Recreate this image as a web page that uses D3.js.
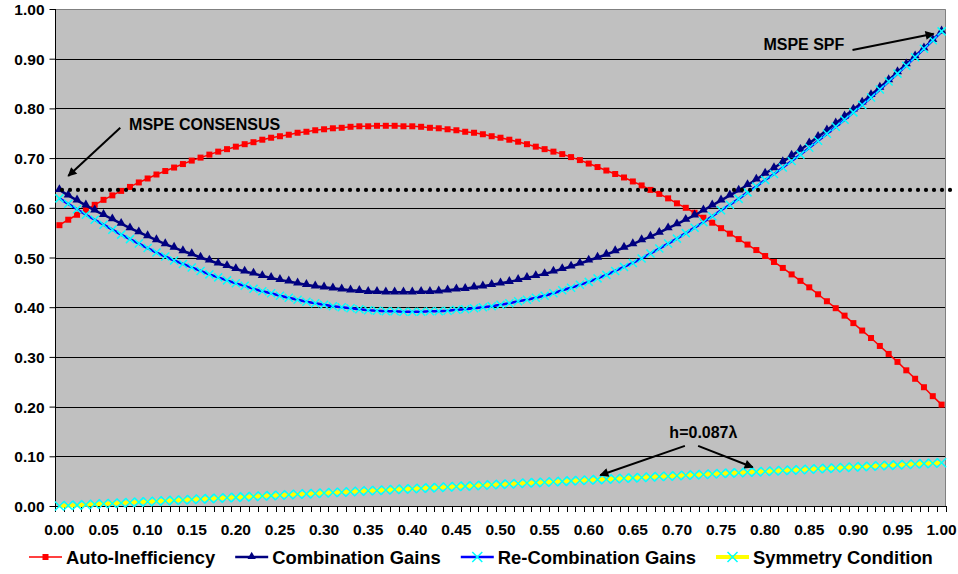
<!DOCTYPE html>
<html><head><meta charset="utf-8">
<script src="https://cdn.jsdelivr.net/npm/d3@7"></script>
<style>
body{margin:0;background:#fff}
text{font-family:Arial,"Liberation Sans",sans-serif;font-weight:bold;fill:#000}
</style>
</head><body>
<svg id="chart" width="958" height="574"></svg>
<script>
// ---------- data ----------
const categories = d3.range(101).map(i => (i / 100).toFixed(2));
const xTickLabels = ["0.00","0.05","0.10","0.15","0.20","0.25","0.30","0.35","0.40","0.45","0.50",
                     "0.55","0.60","0.65","0.70","0.75","0.80","0.85","0.90","0.95","1.00"];
const yTickValues = [0,0.1,0.2,0.3,0.4,0.5,0.6,0.7,0.8,0.9,1.0];
const yTickLabels = ["0.00","0.10","0.20","0.30","0.40","0.50","0.60","0.70","0.80","0.90","1.00"];
const seriesNames = ["Auto-Inefficiency","Combination Gains","Re-Combination Gains","Symmetry Condition"];

const autoInefficiency = [
0.565,0.576,0.586,0.596,0.606,0.616,0.625,0.634,0.642,0.651,
0.659,0.667,0.674,0.681,0.688,0.695,0.701,0.707,0.713,0.718,
0.723,0.728,0.732,0.737,0.741,0.744,0.747,0.751,0.753,0.756,
0.758,0.760,0.761,0.763,0.764,0.764,0.765,0.765,0.765,0.764,
0.764,0.763,0.761,0.760,0.758,0.756,0.753,0.751,0.748,0.744,
0.741,0.737,0.733,0.728,0.723,0.718,0.713,0.708,0.702,0.696,
0.689,0.682,0.675,0.668,0.661,0.653,0.645,0.636,0.628,0.619,
0.609,0.600,0.590,0.580,0.570,0.559,0.548,0.537,0.526,0.515,
0.503,0.491,0.479,0.466,0.453,0.440,0.426,0.412,0.398,0.383,
0.368,0.353,0.338,0.322,0.306,0.290,0.273,0.256,0.239,0.221,
0.204];

const combinationGains = [
0.636,0.625,0.615,0.605,0.595,0.586,0.577,0.568,0.559,0.551,
0.543,0.535,0.527,0.520,0.513,0.507,0.500,0.494,0.488,0.483,
0.477,0.472,0.468,0.463,0.459,0.455,0.452,0.448,0.445,0.442,
0.440,0.438,0.436,0.434,0.433,0.431,0.431,0.430,0.430,0.430,
0.430,0.431,0.431,0.432,0.434,0.436,0.437,0.440,0.442,0.445,
0.448,0.451,0.455,0.459,0.463,0.467,0.472,0.477,0.482,0.488,
0.494,0.500,0.506,0.513,0.520,0.527,0.535,0.542,0.550,0.559,
0.567,0.576,0.585,0.595,0.605,0.615,0.625,0.635,0.646,0.657,
0.669,0.680,0.692,0.705,0.717,0.730,0.743,0.756,0.770,0.784,
0.798,0.812,0.827,0.842,0.857,0.873,0.889,0.905,0.921,0.938,
0.955];

const reCombinationGains = [
0.619,0.608,0.597,0.586,0.576,0.566,0.556,0.546,0.537,0.528,
0.519,0.510,0.502,0.494,0.487,0.480,0.473,0.466,0.460,0.454,
0.448,0.443,0.437,0.432,0.428,0.423,0.419,0.415,0.411,0.408,
0.405,0.402,0.400,0.398,0.396,0.394,0.393,0.392,0.392,0.391,
0.391,0.391,0.392,0.392,0.393,0.395,0.396,0.398,0.400,0.402,
0.405,0.408,0.412,0.415,0.419,0.423,0.428,0.434,0.439,0.445,
0.451,0.458,0.465,0.473,0.481,0.489,0.498,0.508,0.518,0.528,
0.538,0.549,0.560,0.571,0.583,0.595,0.606,0.618,0.631,0.643,
0.656,0.668,0.681,0.694,0.707,0.721,0.735,0.749,0.763,0.777,
0.792,0.807,0.822,0.838,0.854,0.870,0.886,0.903,0.920,0.937,
0.955];

const symmetryCondition = [
0.0000,0.0009,0.0017,0.0026,0.0035,0.0044,0.0052,0.0061,0.0070,0.0078,
0.0087,0.0096,0.0104,0.0113,0.0122,0.0131,0.0139,0.0148,0.0157,0.0165,
0.0174,0.0183,0.0191,0.0200,0.0209,0.0218,0.0226,0.0235,0.0244,0.0252,
0.0261,0.0270,0.0278,0.0287,0.0296,0.0305,0.0313,0.0322,0.0331,0.0339,
0.0348,0.0357,0.0365,0.0374,0.0383,0.0392,0.0400,0.0409,0.0418,0.0426,
0.0435,0.0444,0.0452,0.0461,0.0470,0.0479,0.0487,0.0496,0.0505,0.0513,
0.0522,0.0531,0.0539,0.0548,0.0557,0.0566,0.0574,0.0583,0.0592,0.0600,
0.0609,0.0618,0.0626,0.0635,0.0644,0.0653,0.0661,0.0670,0.0679,0.0687,
0.0696,0.0705,0.0713,0.0722,0.0731,0.0740,0.0748,0.0757,0.0766,0.0774,
0.0783,0.0792,0.0800,0.0809,0.0818,0.0827,0.0835,0.0844,0.0853,0.0861,
0.0870];

const consensusLevel = 0.636;   // MSPE CONSENSUS dotted level

// annotations in data units: [categoryIndex, value]
const annotConsensus = {text:"MSPE CONSENSUS", at:[7.9,0.757], arrows:[[[6.9,0.761],[1.0,0.664]]]};
const annotSPF = {text:"MSPE SPF", at:[79.8,0.918], arrows:[[[89.9,0.9175],[99.1,0.950]]]};
const annotH = {text:"h=0.087λ", at:[73.0,0.137], arrows:[[[70.9,0.121],[61.3,0.062]],[[72.4,0.121],[78.6,0.078]]]};

// ---------- layout ----------
const svg = d3.select("#chart");
const L = 55, R = 946, T = 9, B = 506;

const x = d3.scalePoint().domain(d3.range(categories.length)).range([L, R]).padding(0.5);
const step = x.step();
const xc = v => L + (v + 0.5) * step;   // continuous category position
const y = d3.scaleLinear().domain([0, 1]).range([B, T]);

svg.append("rect").attr("width", 958).attr("height", 574).attr("fill", "#fff");
svg.append("rect").attr("x", L).attr("y", T).attr("width", R - L).attr("height", B - T).attr("fill", "#C0C0C0");

// gridlines
svg.append("g").selectAll("line").data(yTickValues.filter(v => v > 0 && v < 1)).join("line")
  .attr("x1", L).attr("x2", R)
  .attr("y1", d => Math.round(y(d)) + 0.5).attr("y2", d => Math.round(y(d)) + 0.5)
  .attr("stroke", "#000").attr("stroke-width", 1);

// border (top/right)
svg.append("path").attr("d", `M${L},${T + 0.5}H${R - 0.5}V${B}`).attr("fill", "none").attr("stroke", "#808080");

// y axis
const yAxis = d3.axisLeft(y).tickValues(yTickValues).tickFormat((d, i) => yTickLabels[i]).tickSize(6).tickPadding(5);
const gy = svg.append("g").attr("transform", `translate(${L + 0.5},0)`).call(yAxis);
gy.select(".domain").attr("stroke", "#000").attr("d", `M0,${T}V${B}`);
gy.selectAll(".tick line").attr("stroke", "#000");
gy.selectAll(".tick text").style("font-size", "15.5px").style("font-family", "Arial, 'Liberation Sans', sans-serif")
  .style("font-weight", "bold").attr("fill", "#000").attr("dy", "0.36em").attr("x", -11);

// x axis
svg.append("line").attr("x1", L).attr("x2", R).attr("y1", B + 0.5).attr("y2", B + 0.5).attr("stroke", "#000");
svg.append("g").selectAll("line").data(d3.range(categories.length + 1)).join("line")
  .attr("x1", d => Math.round(L + d * step) + 0.5).attr("x2", d => Math.round(L + d * step) + 0.5)
  .attr("y1", B).attr("y2", B + 6).attr("stroke", "#000");
svg.append("g").selectAll("text").data(xTickLabels).join("text")
  .attr("x", (d, i) => x(i * 5)).attr("y", B + 29)
  .attr("text-anchor", "middle").style("font-size", "15.5px").text(d => d);

// ---------- series ----------
const line = d3.line().x((d, i) => x(i)).y(d => y(d));

function squares(g, data, size, color) {
  g.selectAll("rect").data(data).join("rect")
    .attr("x", (d, i) => x(i) - size / 2).attr("y", d => y(d) - size / 2)
    .attr("width", size).attr("height", size).attr("fill", color);
}
function triangles(g, data, color) {
  g.selectAll("path").data(data).join("path")
    .attr("d", d3.symbol(d3.symbolTriangle, 36))
    .attr("transform", (d, i) => `translate(${x(i)},${y(d) - 0.5})`).attr("fill", color);
}
function crosses(g, data, s, color) {
  g.selectAll("path").data(data).join("path")
    .attr("d", (d, i) => { const cx = x(i), cy = y(d); return `M${cx - s},${cy - s}L${cx + s},${cy + s}M${cx - s},${cy + s}L${cx + s},${cy - s}`; })
    .attr("stroke", color).attr("stroke-width", 1.5).attr("fill", "none");
}

// red
const gRed = svg.append("g");
gRed.append("path").datum(autoInefficiency).attr("d", line).attr("fill", "none").attr("stroke", "#FF0000").attr("stroke-width", 1.5);
squares(gRed.append("g"), autoInefficiency, 6, "#FF0000");

// navy
const gNavy = svg.append("g");
gNavy.append("path").datum(combinationGains).attr("d", line).attr("fill", "none").attr("stroke", "#000080").attr("stroke-width", 2.5);
triangles(gNavy.append("g"), combinationGains, "#000080");

// blue with cyan x
const gBlue = svg.append("g");
gBlue.append("path").datum(reCombinationGains).attr("d", line).attr("fill", "none").attr("stroke", "#0000FF").attr("stroke-width", 2.5);
crosses(gBlue.append("g"), reCombinationGains, 4, "#00FFFF");

// yellow with cyan x
const gYel = svg.append("g");
gYel.append("path").datum(symmetryCondition).attr("d", line).attr("fill", "none").attr("stroke", "#FFFF00").attr("stroke-width", 4);
crosses(gYel.append("g"), symmetryCondition, 4.5, "#00FFFF");

// dotted consensus line (drawn shape, extends past plot)
svg.append("line").attr("x1", L + 7).attr("x2", R + 6)
  .attr("y1", y(consensusLevel)).attr("y2", y(consensusLevel))
  .attr("stroke", "#000").attr("stroke-width", 4.2).attr("stroke-linecap", "round").attr("stroke-dasharray", "0,8");

// ---------- annotations ----------
const defs = svg.append("defs");
defs.append("marker").attr("id", "ah").attr("viewBox", "0 0 10 10").attr("refX", 9).attr("refY", 5)
  .attr("markerWidth", 11).attr("markerHeight", 9).attr("markerUnits", "userSpaceOnUse").attr("orient", "auto")
  .append("path").attr("d", "M0,0L10,5L0,10z").attr("fill", "#000");

[annotConsensus, annotSPF, annotH].forEach((a, k) => {
  const t = svg.append("text").style("font-size", "16px").text(a.text);
  if (k === 2) t.attr("x", xc(a.at[0])).attr("y", y(a.at[1])).attr("text-anchor", "middle");
  else t.attr("x", xc(a.at[0])).attr("y", y(a.at[1]));
  a.arrows.forEach(ar => {
    svg.append("line").attr("x1", xc(ar[0][0])).attr("y1", y(ar[0][1]))
      .attr("x2", xc(ar[1][0])).attr("y2", y(ar[1][1]))
      .attr("stroke", "#000").attr("stroke-width", 2).attr("marker-end", "url(#ah)");
  });
});

// ---------- legend ----------
const legendY = 557;
const lg = svg.append("g");
let cx = 29;
const styles = [
  {color:"#FF0000", lw:1.5, mark:"square", mc:"#FF0000"},
  {color:"#000080", lw:2.5, mark:"tri", mc:"#000080"},
  {color:"#0000FF", lw:2.5, mark:"x", mc:"#00FFFF"},
  {color:"#FFFF00", lw:4, mark:"x", mc:"#00FFFF"}
];
seriesNames.forEach((name, i) => {
  const s = styles[i];
  const g = lg.append("g");
  g.append("line").attr("x1", cx).attr("x2", cx + 33).attr("y1", legendY).attr("y2", legendY)
    .attr("stroke", s.color).attr("stroke-width", s.lw);
  const mx = cx + 16.5;
  if (s.mark === "square") g.append("rect").attr("x", mx - 3).attr("y", legendY - 3).attr("width", 6).attr("height", 6).attr("fill", s.mc);
  else if (s.mark === "tri") g.append("path").attr("d", d3.symbol(d3.symbolTriangle, 30)).attr("transform", `translate(${mx},${legendY - 0.5})`).attr("fill", s.mc);
  else g.append("path").attr("d", `M${mx - 5},${legendY - 5}L${mx + 5},${legendY + 5}M${mx - 5},${legendY + 5}L${mx + 5},${legendY - 5}`).attr("stroke", s.mc).attr("stroke-width", 1.5);
  const t = g.append("text").attr("x", cx + 37).attr("y", legendY + 6.5).style("font-size", "18.4px").text(name);
  cx = cx + 37 + t.node().getComputedTextLength() + 20;
});
</script>
</body></html>
